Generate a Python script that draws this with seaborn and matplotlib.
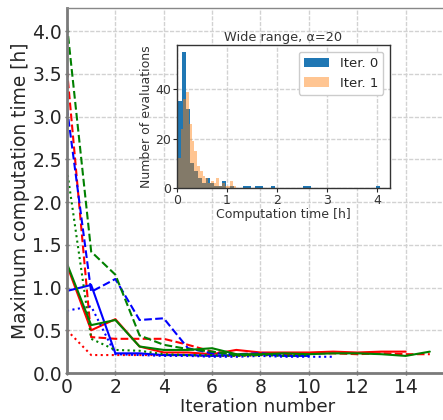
import numpy as np
import pandas as pd
import matplotlib
matplotlib.use("Agg")
import matplotlib.pyplot as plt
import seaborn as sns

# ---------------- data ----------------
red_solid = [1.26, 0.50, 0.63, 0.31, 0.24, 0.24, 0.22, 0.27, 0.24, 0.24, 0.24, 0.25, 0.24, 0.25, 0.25]
red_dashed = [3.55, 0.42, 0.40, 0.40, 0.40, 0.33, 0.25, 0.22, 0.23, 0.22, 0.23, 0.23, 0.22, 0.23, 0.22, 0.22]
red_dotted = [0.50, 0.21, 0.21, 0.21, 0.21, 0.21, 0.20, 0.20, 0.21, 0.21, 0.21]
blue_solid = [0.96, 1.03, 0.23, 0.23, 0.21, 0.21, 0.20, 0.21, 0.22, 0.20, 0.20]
blue_dashed = [3.10, 0.95, 1.10, 0.62, 0.64, 0.29, 0.23, 0.22, 0.23, 0.21]
blue_dotted = [0.73, 0.78, 0.22, 0.21, 0.20, 0.20, 0.19, 0.19, 0.20, 0.19, 0.19, 0.19]
green_solid = [1.28, 0.56, 0.62, 0.31, 0.27, 0.27, 0.29, 0.22, 0.22, 0.23, 0.22, 0.23, 0.23, 0.22, 0.20, 0.25]
green_dashed = [4.07, 1.42, 1.15, 0.44, 0.33, 0.28, 0.25, 0.21, 0.21]
green_dotted = [2.38, 0.40, 0.27, 0.26, 0.22, 0.21, 0.21, 0.20, 0.21, 0.20, 0.21]

series = [
    (red_solid, "red", "-"), (red_dashed, "red", "--"), (red_dotted, "red", ":"),
    (blue_solid, "blue", "-"), (blue_dashed, "blue", "--"), (blue_dotted, "blue", ":"),
    (green_solid, "green", "-"), (green_dashed, "green", "--"), (green_dotted, "green", ":"),
]

# histogram (inset) : bin edges and counts
iter0_start, iter0_width = 0.013, 0.0811
iter0_counts = [35, 55, 32, 10, 7, 4, 2, 4, 2, 1, 1, 3, 0, 1, 0, 0, 1, 1, 0, 1,
                1, 0, 0, 1, 0, 0, 0, 0, 0, 0, 0, 1, 1, 0, 0, 0, 0, 0, 0, 0,
                0, 0, 0, 0, 0, 0, 0, 0, 0, 1]
iter1_start, iter1_width = 0.02, 0.055
iter1_counts = [12, 24, 36, 39, 26, 19, 15, 9, 7, 5, 4, 2, 3, 2, 4, 1, 2, 1, 1, 3, 1]

main_xticks = list(range(0, 15, 2))
main_yticks = [0.0, 0.5, 1.0, 1.5, 2.0, 2.5, 3.0, 3.5, 4.0]

# ---------------- style ----------------
GRID = dict(linestyle=(0, (3, 1.1)), color="#d2d2d2", linewidth=1.0)
sns.set_style("whitegrid", {"axes.edgecolor": "#808080"})
plt.rcParams['font.family'] = ['DejaVu Sans']

fig = plt.figure(figsize=(4.43, 4.20), dpi=100)
ax = fig.add_axes([0.1512, 0.1119, 0.86, 0.869])

for vals, col, ls in series:
    df = pd.DataFrame({"it": np.arange(len(vals)), "t": vals})
    sns.lineplot(data=df, x="it", y="t", color=col, linestyle=ls, linewidth=1.5, ax=ax)

ax.set_xlim(0, 15.75)
ax.set_ylim(0, 4.27)
ax.set_xticks(main_xticks)
ax.set_yticks(main_yticks)
ax.set_yticklabels([f"{v:.1f}" for v in main_yticks])
ax.tick_params(axis="both", labelsize=13.5, length=3, width=1.0, color="#555555",
               direction="inout", bottom=True, left=True, pad=2, labelcolor="#262626")
ax.set_xlabel("Iteration number", fontsize=13.2, color="#262626", labelpad=1)
ax.set_ylabel("Maximum computation time [h]", fontsize=13.4, color="#262626", labelpad=2)
for s in ["left", "bottom"]:
    ax.spines[s].set_linewidth(2.0)
    ax.spines[s].set_color("#7a7a7a")
ax.spines["top"].set_linewidth(1.0)
ax.spines["top"].set_color("#888888")
ax.grid(True, **GRID)

# ---------------- inset ----------------
ins = fig.add_axes([0.3995, 0.552, 0.4808, 0.3405])
e0 = [iter0_start + iter0_width * k for k in range(len(iter0_counts) + 1)]
e1 = [iter1_start + iter1_width * k for k in range(len(iter1_counts) + 1)]
h0 = pd.DataFrame({"t": [(a + b) / 2 for a, b in zip(e0[:-1], e0[1:])], "n": iter0_counts})
h1 = pd.DataFrame({"t": [(a + b) / 2 for a, b in zip(e1[:-1], e1[1:])], "n": iter1_counts})
sns.histplot(data=h0, x="t", weights="n", bins=e0, color="#1f77b4", alpha=1.0,
             linewidth=0, ax=ins, label="Iter. 0")
sns.histplot(data=h1, x="t", weights="n", bins=e1, color="#ff7f0e", alpha=0.45,
             linewidth=0, ax=ins, label="Iter. 1")
ins.set_xlim(0, 4.26)
ins.set_ylim(0, 57.75)
ins.set_xticks([0, 1, 2, 3, 4])
ins.set_yticks([0, 20, 40])
ins.tick_params(axis="both", labelsize=9, length=3, width=0.8, pad=1,
                bottom=True, left=True, labelcolor="#333333")
ins.set_xlabel("Computation time [h]", fontsize=9, color="#333333", labelpad=1)
ins.set_ylabel("Number of evaluations", fontsize=9, color="#333333", labelpad=2)
ins.set_title("Wide range, α=20", fontsize=9.3, color="#333333", pad=3)
ins.grid(True, **GRID)
for s in ins.spines.values():
    s.set_color("#333333")
    s.set_linewidth(1.0)
ins.legend(loc="upper right", fontsize=9.5, frameon=True, handlelength=1.9,
           borderaxespad=0.5, framealpha=1.0)

fig.savefig("out.png", dpi=100)
